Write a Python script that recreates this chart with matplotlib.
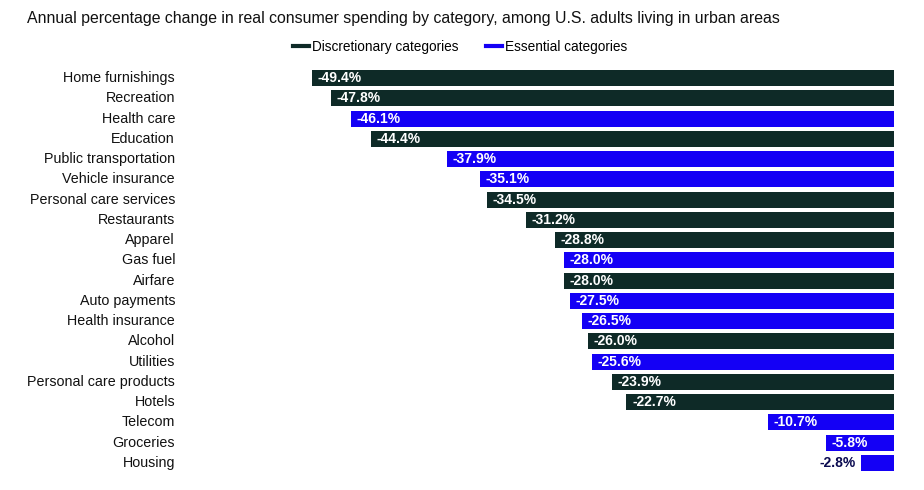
import matplotlib.pyplot as plt
from matplotlib.lines import Line2D

categories = ["Home furnishings", "Recreation", "Health care", "Education",
              "Public transportation", "Vehicle insurance", "Personal care services",
              "Restaurants", "Apparel", "Gas fuel", "Airfare", "Auto payments",
              "Health insurance", "Alcohol", "Utilities", "Personal care products",
              "Hotels", "Telecom", "Groceries", "Housing"]
values = [-49.4, -47.8, -46.1, -44.4, -37.9, -35.1, -34.5, -31.2, -28.8, -28.0,
          -28.0, -27.5, -26.5, -26.0, -25.6, -23.9, -22.7, -10.7, -5.8, -2.8]
kinds = ["D", "D", "E", "D", "E", "E", "D", "D", "D", "E",
         "D", "E", "E", "D", "E", "D", "D", "E", "E", "E"]

DARK = "#0e2a27"
BLUE = "#1400f5"
colors = [DARK if k == "D" else BLUE for k in kinds]

plt.rcParams["font.family"] = ["Liberation Sans", "DejaVu Sans"]

fig = plt.figure(figsize=(9.24, 4.90), dpi=100)
ax = fig.add_axes([300 / 924, 17 / 490, 594 / 924, 405 / 490])

ypos = list(range(len(categories)))
ax.barh(ypos, values, height=0.8, color=colors)
ax.set_ylim(len(categories) - 0.5, -0.5)
ax.set_xlim(-50.4, 0)

for y, v, name in zip(ypos, values, categories):
    # category names, right edge ~125 px left of the axes
    ax.annotate(name, xy=(0, y), xycoords=("axes fraction", "data"),
                xytext=(-90, 0), textcoords="offset points",
                ha="right", va="center", fontsize=10.3, color="#111111")
    if v < -5:
        ax.annotate(f"{v:.1f}%", xy=(v, y), xytext=(4, 0), textcoords="offset points",
                    ha="left", va="center", fontsize=10, fontweight="bold", color="white")
    else:
        ax.annotate(f"{v:.1f}%", xy=(v, y), xytext=(-4, 0), textcoords="offset points",
                    ha="right", va="center", fontsize=10, fontweight="bold", color="#0a0a50")

ax.axis("off")

fig.text(27 / 924, 1 - 18 / 490, "Annual percentage change in real consumer spending by category, "
         "among U.S. adults living in urban areas", ha="left", va="center",
         fontsize=11.4, color="#111111")

handles = [Line2D([], [], color=DARK, lw=3), Line2D([], [], color=BLUE, lw=3)]
fig.legend(handles, ["Discretionary categories", "Essential categories"],
           loc="center", bbox_to_anchor=(460 / 924, 1 - 47 / 490), ncol=2, frameon=False,
           fontsize=9.8, handlelength=1.2, handletextpad=0.2, columnspacing=2.0)

fig.savefig("out.png", dpi=100)
